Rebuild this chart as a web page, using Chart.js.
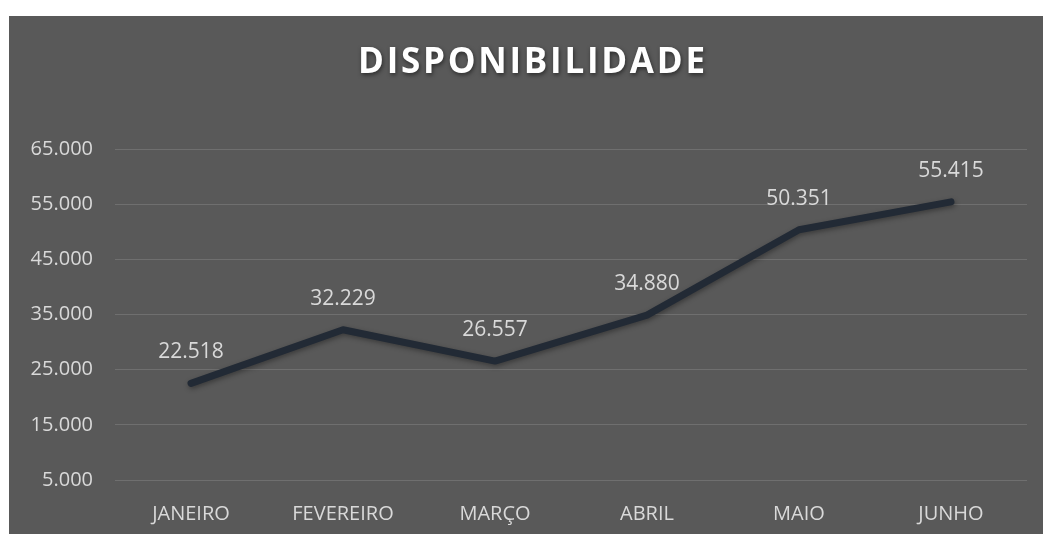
<!DOCTYPE html>
<html><head><meta charset="utf-8">
<script src="https://cdn.jsdelivr.net/npm/chart.js@4/dist/chart.umd.min.js"></script>
<style>
html,body{margin:0;padding:0;background:#ffffff;width:1043px;height:534px;overflow:hidden}
#wrap{position:absolute;left:9px;top:16px;width:1034px;height:518px;background:#595959}
</style></head><body>
<div id="wrap"><canvas id="c" width="1034" height="518"></canvas></div>
<script>
const titleText = "DISPONIBILIDADE";
const categories = ["JANEIRO","FEVEREIRO","MARÇO","ABRIL","MAIO","JUNHO"];
const values = [22518, 32229, 26557, 34880, 50351, 55415];
const yTicks = [5000,15000,25000,35000,45000,55000,65000];

const fmt = v => v.toString().replace(/\B(?=(\d{3})+(?!\d))/g, ".");

const titlePlugin = {
  id:'titleP',
  afterDraw(chart){
    const ctx = chart.ctx;
    ctx.save();
    ctx.font = "bold 35px 'Open Sans'";
    const w = ctx.measureText(titleText).width;
    const target = 347;
    const sp = (target - w) / (titleText.length - 1);
    ctx.letterSpacing = sp + "px";
    ctx.fillStyle = "#ffffff";
    ctx.textBaseline = "middle";
    ctx.textAlign = "left";
    ctx.shadowColor = "rgba(0,0,0,0.5)";
    ctx.shadowBlur = 4; ctx.shadowOffsetX = 1; ctx.shadowOffsetY = 2;
    const x0 = 522.5 - target/2;
    ctx.fillText(titleText, x0, 47);
    ctx.restore();
  }
};
const labelPlugin = {
  id:'labelsP',
  afterDatasetsDraw(chart){
    const ctx = chart.ctx;
    const meta = chart.getDatasetMeta(0);
    ctx.save();
    ctx.font = "21px 'Open Sans'";
    ctx.fillStyle = "#d9d9d9";
    ctx.textAlign = "center";
    ctx.textBaseline = "middle";
    meta.data.forEach((pt,i)=>{
      ctx.fillText(fmt(values[i]), pt.x, pt.y - 31);
    });
    ctx.restore();
  }
};
const shadowPlugin = {
  id:'shadowP',
  beforeDatasetDraw(chart){
    const ctx = chart.ctx; ctx.save();
    ctx.shadowColor = "rgba(0,0,0,0.35)"; ctx.shadowBlur = 5; ctx.shadowOffsetX = 1; ctx.shadowOffsetY = 2;
  },
  afterDatasetDraw(chart){ chart.ctx.restore(); }
};

new Chart(document.getElementById('c'), {
  type:'line',
  data:{ labels: categories, datasets:[{ data: values, borderColor:'#222a35', borderWidth:7,
     borderCapStyle:'round', borderJoinStyle:'round', pointRadius:0, tension:0, fill:false }]},
  options:{
    responsive:false, animation:false, devicePixelRatio:1,
    layout:{ padding:{ top:133, right:16, left:0, bottom:0 } },
    plugins:{ legend:{display:false}, tooltip:{enabled:false}, title:{display:false} },
    scales:{
      x:{ offset:true, grid:{display:false, drawTicks:false}, border:{display:false},
          ticks:{ color:'#d9d9d9', font:{family:"'Open Sans'", size:20}, padding:22 },
          afterFit(s){ s.height = 54; } },
      y:{ min:5000, max:65000, grid:{ color:'#6f6f6f', lineWidth:1, drawTicks:false }, border:{display:false},
          afterBuildTicks(s){ s.ticks = yTicks.map(v=>({value:v})); },
          ticks:{ color:'#d9d9d9', font:{family:"'Open Sans'", size:20}, padding:22, callback:v=>fmt(v) },
          afterFit(s){ s.width = 106; } }
    }
  },
  plugins:[titlePlugin, labelPlugin, shadowPlugin]
});
</script></body></html>
